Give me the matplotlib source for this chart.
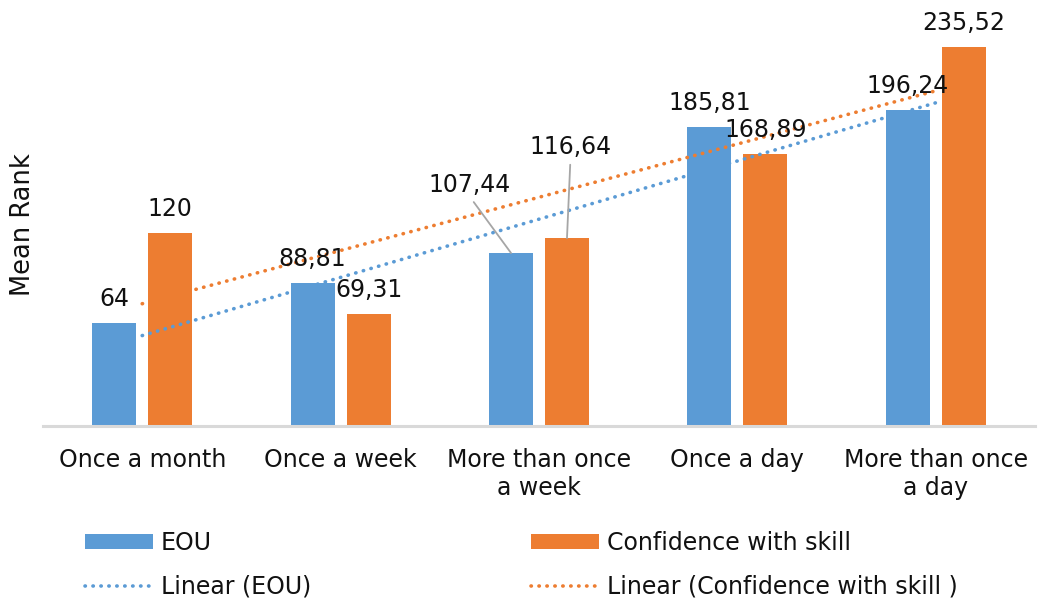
import numpy as np
import matplotlib.pyplot as plt

# Mean rank by usage frequency
categories = ['Once a month', 'Once a week', 'More than once\na week',
              'Once a day', 'More than once\na day']
eou = [64, 88.81, 107.44, 185.81, 196.24]
confidence = [120, 69.31, 116.64, 168.89, 235.52]
series_names = ['EOU', 'Confidence with skill']
trend_names = ['Linear (EOU)', 'Linear (Confidence with skill )']

blue = '#5B9BD5'
orange = '#ED7D31'
text_color = '#111111'
plt.rcParams['font.family'] = ['DejaVu Sans']

fig = plt.figure(figsize=(10.4, 6.01), dpi=100)
ax = fig.add_axes([43 / 1040, 1 - 426 / 601, (1035 - 43) / 1040, (426 - 23.5) / 601])

x = np.arange(len(categories))
width = 0.222
offset = 0.141

bars_eou = ax.bar(x - offset, eou, width, color=blue, label=series_names[0], zorder=2)
bars_conf = ax.bar(x + offset, confidence, width, color=orange, label=series_names[1], zorder=2)

# linear trendlines, same as a least squares fit
trend_lines = []
for vals, col, name in [(eou, blue, trend_names[0]), (confidence, orange, trend_names[1])]:
    coef = np.polyfit(x, vals, 1)
    line, = ax.plot(x, np.polyval(coef, x), color=col, lw=2.6,
                    linestyle=(0, (0.1, 2.1)), dash_capstyle='round',
                    label=name, zorder=3)
    trend_lines.append(line)

# data labels, two of them moved out with leader lines
moved = {(0, 2): (-29.5, 43.9), (1, 2): (2.5, 60.5)}
for s, (vals, xs) in enumerate([(eou, x - offset), (confidence, x + offset)]):
    for i, (xv, v) in enumerate(zip(xs, vals)):
        txt = f'{v:g}'.replace('.', ',')
        if (s, i) in moved:
            ax.annotate(txt, xy=(xv, v), xytext=moved[(s, i)], textcoords='offset points',
                        ha='center', va='baseline', fontsize=17, color=text_color, zorder=4,
                        arrowprops=dict(arrowstyle='-', color='#A6A6A6', lw=1.3,
                                        relpos=(0.5, 0), shrinkA=2, shrinkB=0))
        else:
            ax.annotate(txt, xy=(xv, v), xytext=(0, 12.2), textcoords='offset points',
                        ha='center', va='baseline', fontsize=17, color=text_color, zorder=4)

ax.set_xlim(-0.5, len(categories) - 0.5)
ax.set_ylim(0, 250)
ax.set_xticks(x)
ax.set_xticklabels(categories, fontsize=17, color=text_color)
ax.tick_params(axis='x', length=0, pad=16)
ax.set_yticks([])
ax.set_ylabel('Mean Rank', fontsize=18.5, color=text_color, labelpad=5)
for side in ['top', 'right', 'left']:
    ax.spines[side].set_visible(False)
ax.spines['bottom'].set_color('#D9D9D9')
ax.spines['bottom'].set_linewidth(2.2)

handles = [bars_eou, trend_lines[0], bars_conf, trend_lines[1]]
labels = [series_names[0], trend_names[0], series_names[1], trend_names[1]]
fig.legend(handles, labels, loc='upper left', bbox_to_anchor=(85 / 1040, 1 - 531 / 601),
           ncol=2, frameon=False, fontsize=17, handlelength=2.88, handleheight=0.6,
           handletextpad=0.34, columnspacing=9.3, labelspacing=0.83,
           borderpad=0, borderaxespad=0, labelcolor=text_color)

fig.savefig('out.png', dpi=100)
